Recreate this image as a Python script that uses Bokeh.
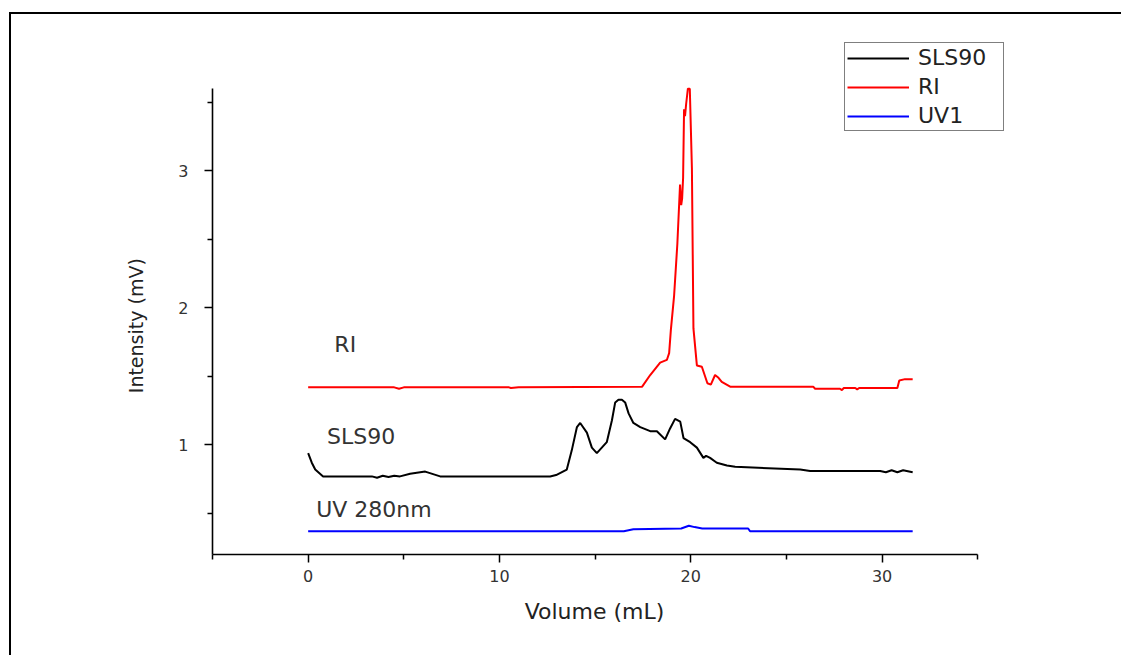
from bokeh.plotting import figure
from bokeh.models import Legend, LegendItem, FixedTicker, ColumnDataSource
from bokeh.core.properties import value
from bokeh.embed import file_html
from bokeh.resources import INLINE

# ---------------- data ----------------
ri_x = [0.0, 4.5, 4.75, 5.0, 10.5, 10.6, 11.0, 17.46, 17.88, 18.4, 18.75, 18.87, 18.96,
        19.13, 19.3, 19.44, 19.5, 19.55, 19.6, 19.65, 19.7, 19.76, 19.85, 19.95, 20.06,
        20.14, 20.32, 20.58, 20.87, 21.05, 21.27, 21.45, 21.62, 22.06, 26.4, 26.5, 27.8,
        27.9, 28.0, 28.6, 28.7, 28.8, 30.8, 30.9, 31.2, 31.6]
ri_y = [1.42, 1.42, 1.41, 1.42, 1.42, 1.415, 1.42, 1.425, 1.51, 1.60, 1.62, 1.67, 1.84,
        2.09, 2.47, 2.90, 2.75, 2.80, 2.95, 3.45, 3.40, 3.49, 3.60, 3.60, 3.02,
        1.85, 1.58, 1.57, 1.45, 1.44, 1.51, 1.49, 1.46, 1.425, 1.425, 1.41, 1.41,
        1.40, 1.415, 1.415, 1.405, 1.415, 1.415, 1.47, 1.48, 1.48]

sls_x = [0.0, 0.19, 0.37, 0.78, 3.33, 3.6, 3.9, 4.2, 4.5, 4.8, 5.33, 6.12, 6.9, 12.65,
         12.96, 13.52, 13.78, 14.05, 14.22, 14.57, 14.83, 15.09, 15.61, 15.88, 16.05,
         16.22, 16.4, 16.57, 16.75, 17.0, 17.36, 17.88, 18.23, 18.66, 18.92, 19.18,
         19.45, 19.62, 19.97, 20.32, 20.66, 20.8, 21.01, 21.36, 21.89, 22.32, 25.72,
         26.24, 29.9, 30.2, 30.5, 30.8, 31.1, 31.6]
sls_y = [0.94, 0.87, 0.82, 0.77, 0.77, 0.76, 0.775, 0.765, 0.775, 0.77, 0.79, 0.805, 0.77,
         0.77, 0.78, 0.82, 0.96, 1.13, 1.16, 1.09, 0.98, 0.94, 1.02, 1.18, 1.31,
         1.33, 1.33, 1.31, 1.23, 1.16, 1.13, 1.10, 1.10, 1.04, 1.12, 1.19,
         1.17, 1.05, 1.02, 0.98, 0.905, 0.92, 0.905, 0.87, 0.85, 0.84, 0.82,
         0.81, 0.81, 0.80, 0.815, 0.80, 0.815, 0.80]

uv_x = [0.0, 16.5, 17.0, 19.5, 19.9, 20.2, 20.6, 23.0, 23.1, 31.6]
uv_y = [0.37, 0.37, 0.385, 0.39, 0.41, 0.40, 0.39, 0.39, 0.37, 0.37]

series_names = ["SLS90", "RI", "UV1"]
series_colors = ["#000000", "#ff0000", "#0000ff"]

label_text = ["RI", "SLS90", "UV 280nm"]
label_x = [1.37, 0.99, 0.42]
label_y = [1.73, 1.06, 0.53]

x_title = "Volume (mL)"
y_title = "Intensity (mV)"

x_major = [0, 10, 20, 30]
x_minor = [-5, 5, 15, 25, 35]
y_major = [1, 2, 3]
y_minor = [0.5, 1.5, 2.5, 3.5]

NB = "\u00a0"

# ---------------- figure ----------------
p = figure(width=1112, height=643, output_backend="svg", toolbar_location=None,
           x_range=(-5, 36.4), y_range=(0.2, 3.937),
           min_border_left=201, min_border_right=119, min_border_top=28, min_border_bottom=103,
           x_axis_label=x_title + NB * 4, y_axis_label=y_title + NB * 9)
p.styles = {"border-left": "2px solid black", "border-top": "2px solid black",
            "margin-left": "9px", "margin-top": "12px"}
p.grid.visible = False
p.outline_line_color = None
p.background_fill_color = "white"
p.border_fill_color = "white"

for ax, maj, mn, bnds in ((p.xaxis[0], x_major, x_minor, (-5, 35)),
                          (p.yaxis[0], y_major, y_minor, (0.2, 3.6))):
    ax.ticker = FixedTicker(ticks=maj, minor_ticks=mn)
    ax.bounds = bnds
    ax.axis_line_width = 1.6
    ax.axis_line_color = "black"
    ax.major_tick_out = 8
    ax.major_tick_in = 0
    ax.minor_tick_out = 5
    ax.minor_tick_in = 0
    ax.major_tick_line_width = 1.5
    ax.minor_tick_line_width = 1.5
    ax.major_label_text_font = "DejaVu Sans"
    ax.major_label_text_font_size = "16px"
    ax.major_label_text_color = "#333333"
    ax.axis_label_text_font = "DejaVu Sans"
    ax.axis_label_text_font_style = "normal"
    ax.axis_label_text_color = "#222222"

p.xaxis.major_label_standoff = 7
p.xaxis.axis_label_standoff = 14
p.xaxis.axis_label_text_font_size = "22px"
p.yaxis.major_label_standoff = 16
p.yaxis.axis_label_standoff = 28
p.yaxis.axis_label_text_font_size = "19px"

r_sls = p.line(sls_x, sls_y, line_color=series_colors[0], line_width=2)
r_ri = p.line(ri_x, ri_y, line_color=series_colors[1], line_width=2)
r_uv = p.line(uv_x, uv_y, line_color=series_colors[2], line_width=2)

src = ColumnDataSource(dict(x=label_x, y=label_y, t=label_text))
p.text(x="x", y="y", text="t", source=src, text_font=value("DejaVu Sans"),
       text_font_size="22px", text_baseline="middle", text_align="left",
       text_color="#333333")

legend = Legend(items=[LegendItem(label=n, renderers=[r])
                       for n, r in zip(series_names, [r_sls, r_ri, r_uv])],
                location="top_right", margin=0, padding=2, spacing=4,
                glyph_width=62, glyph_height=24, label_height=24, label_width=83,
                label_standoff=9, label_text_font="DejaVu Sans",
                label_text_font_size="22px", label_text_color="#222222",
                border_line_color="black", border_line_width=1.5,
                background_fill_color="white", background_fill_alpha=1.0)
p.add_layout(legend, "center")

open("out.html", "w").write(file_html(p, INLINE))
